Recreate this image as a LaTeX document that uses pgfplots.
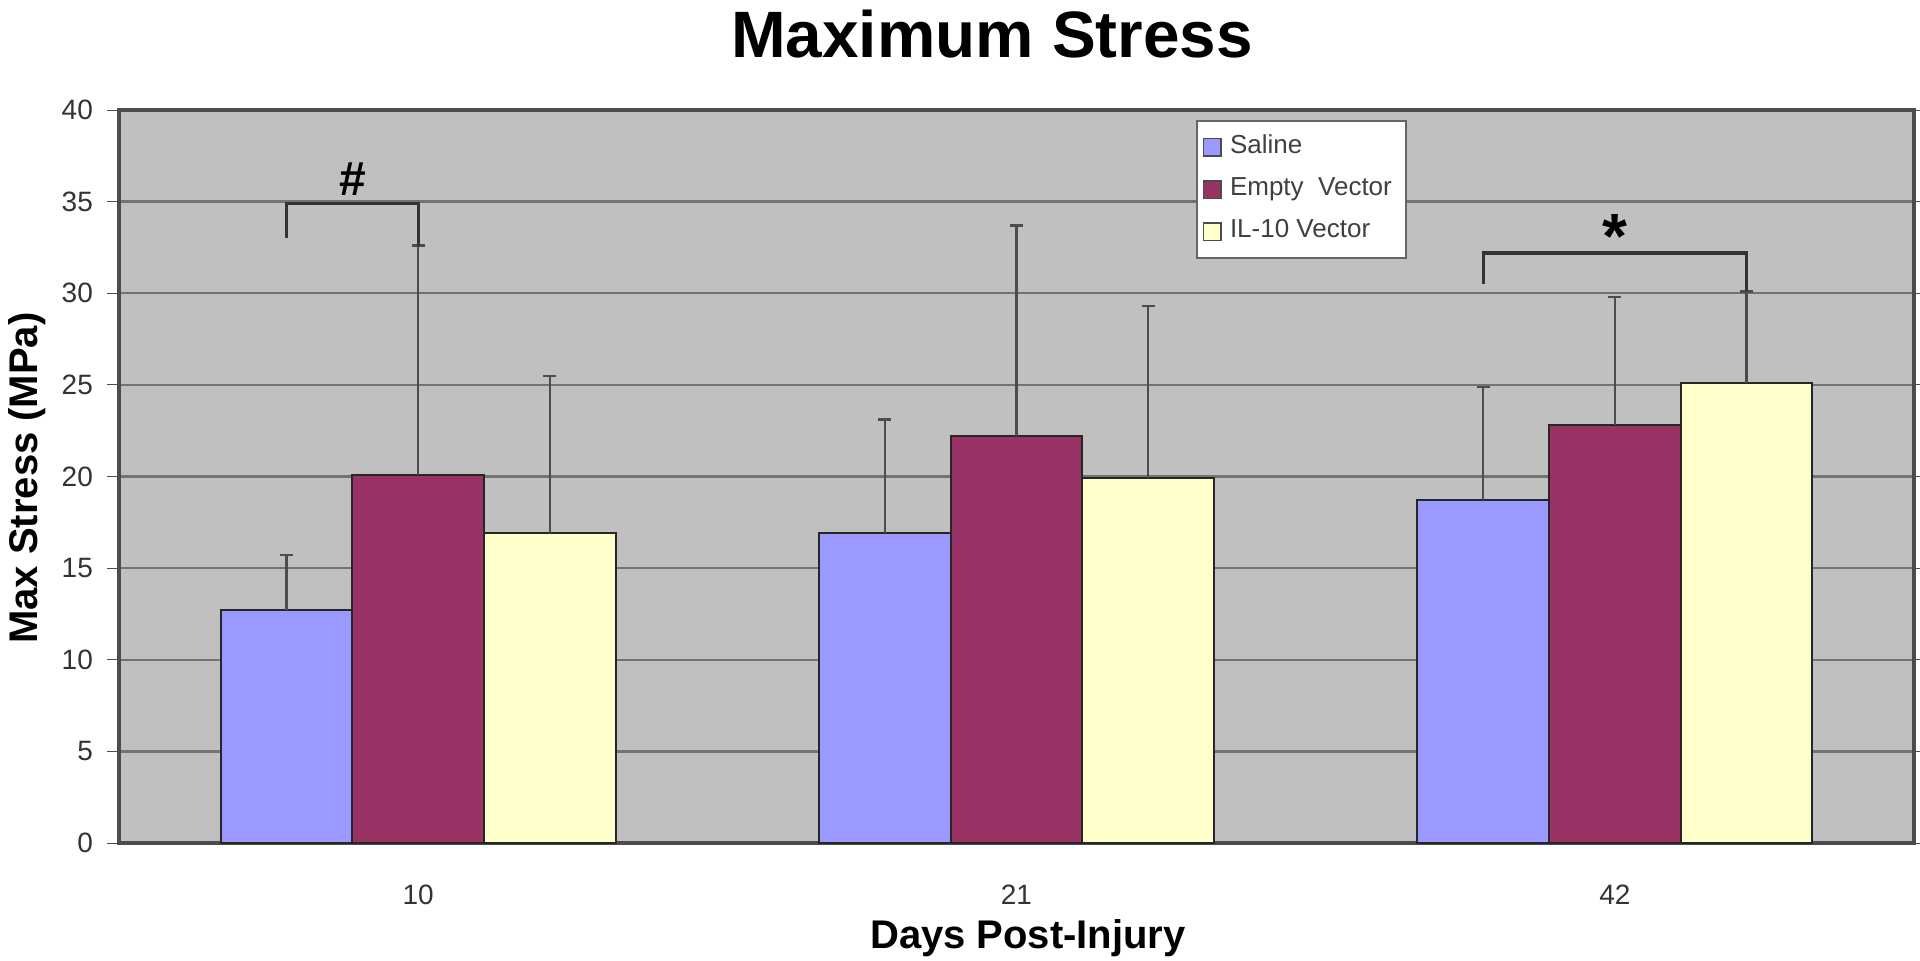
\documentclass[border=0pt]{standalone}
\usepackage{pgfplots}
\pgfplotsset{compat=1.18}
\usepackage{fontspec}
\setmainfont{Liberation Sans}

\definecolor{saline}{HTML}{9999FF}
\definecolor{emptyv}{HTML}{993366}
\definecolor{ilten}{HTML}{FFFFCC}
\definecolor{plotbg}{HTML}{C0C0C0}

\begin{document}
\begin{tikzpicture}
\begin{axis}[
  at={(29.75pt,29.5pt)}, anchor=south west,
  scale only axis,
  width=448.75pt, height=183.25pt,
  axis background/.style={fill=plotbg},
  ybar, bar width=0.22,
  xmin=-0.5, xmax=2.5,
  ymin=0, ymax=40,
  ytick={0,5,...,40},
  xtick={0,1,2},
  xticklabels={10,21,42},
  major x tick style={draw=none},
  extra x ticks={-0.5,0.5,1.5,2.5},
  extra x tick labels={},
  extra x tick style={major tick length=3pt, tick style={draw=black!40}},
  tick align=outside,
  major tick length=3pt,
  ytick style={draw=black!70},
  ymajorgrids,
  grid style={draw=black!55, line width=0.6pt},
  axis line style={draw=black!70, line width=0.8pt},
  tick label style={font=\fontsize{7}{8}\selectfont, text=black!80},
  /pgf/number format/assume math mode=true,
  xticklabel style={yshift=-4pt},
  legend style={at={(0.6,0.986)}, anchor=north west, draw=black!60, fill=white,
    font=\fontsize{6.5}{8}\selectfont, text=black!75, row sep=0.5pt, inner sep=1.5pt,
    cells={anchor=west}},
  legend image code/.code={\draw[#1, draw=black!70, line width=0.4pt] (0pt,-2.2pt) rectangle (4.4pt,2.2pt);},
  every axis plot/.append style={draw=black!85, line width=0.5pt},
  error bars/y dir=plus,
  error bars/y explicit,
  error bars/error bar style={draw=black!70, line width=0.6pt},
  error bars/error mark options={rotate=90, mark size=1.6pt, draw=black!70, line width=0.6pt},
  clip=false,
]
\addplot[fill=saline, bar shift=-0.22] coordinates {
  (0,12.7) +- (0,3.0)
  (1,16.9) +- (0,6.2)
  (2,18.7) +- (0,6.2)
};
\addlegendentry{Saline}
\addplot[fill=emptyv, bar shift=0] coordinates {
  (0,20.1) +- (0,12.5)
  (1,22.2) +- (0,11.5)
  (2,22.8) +- (0,7.0)
};
\addlegendentry{Empty\ \ Vector}
\addplot[fill=ilten, bar shift=0.22] coordinates {
  (0,16.9) +- (0,8.6)
  (1,19.9) +- (0,9.4)
  (2,25.1) +- (0,5.0)
};
\addlegendentry{IL-10 Vector}
% significance brackets
\draw[black!80, line width=0.8pt] (axis cs:-0.22,33.0) -- (axis cs:-0.22,34.9) -- (axis cs:0,34.9) -- (axis cs:0,32.6);
\node[font=\bfseries\fontsize{12}{14}\selectfont] at (axis cs:-0.11,36.2) {\#};
\draw[black!80, line width=0.8pt] (axis cs:1.78,30.5) -- (axis cs:1.78,32.2) -- (axis cs:2.22,32.2) -- (axis cs:2.22,30.1);
\node[font=\bfseries\fontsize{16}{16}\selectfont] at (axis cs:2.0,33.1) {*};
\end{axis}
\node[font=\bfseries\fontsize{16.4}{18}\selectfont] at (248pt,231.75pt) {Maximum Stress};
\node[font=\bfseries\fontsize{10}{12}\selectfont, rotate=90] at (6.75pt,120.75pt) {Max Stress (MPa)};
\node[font=\bfseries\fontsize{10}{12}\selectfont] at (257pt,5.75pt) {Days Post-Injury};
\pgfresetboundingbox
\path[use as bounding box] (0,0) rectangle (480pt,240.25pt);
\end{tikzpicture}
\end{document}
